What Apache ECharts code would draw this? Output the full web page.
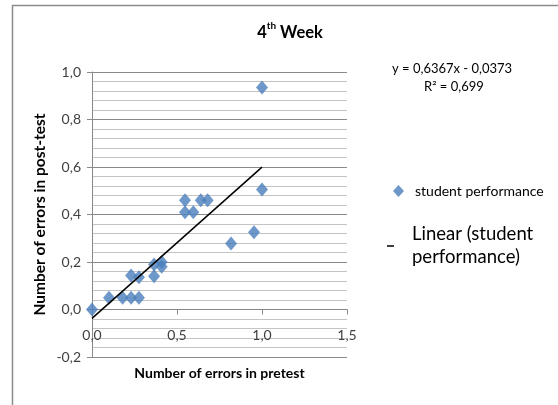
<!DOCTYPE html>
<html><head><meta charset="utf-8">
<script src="https://cdn.jsdelivr.net/npm/echarts@6/dist/echarts.min.js"></script>
<style>html,body{margin:0;padding:0;background:#fff}#c{width:558px;height:405px}</style>
</head><body><div id="c"></div>
<script>
// Data
const pretest  = [0, 0.10, 0.18, 0.23, 0.276, 0.23, 0.276, 0.365, 0.365, 0.41, 0.41, 0.547, 0.596, 0.547, 0.64, 0.68, 0.818, 0.953, 1.0, 1.0];
const posttest = [0, 0.05, 0.05, 0.05, 0.05, 0.143, 0.136, 0.14, 0.19, 0.20, 0.18, 0.41, 0.41, 0.46, 0.46, 0.46, 0.278, 0.325, 0.505, 0.935];
const trendSlope = 0.6367;
const trendIntercept = -0.0373;
const trendRange = [0, 1];
const yTicks = [-0.2, 0.0, 0.2, 0.4, 0.6, 0.8, 1.0];
const xTicks = [0, 0.5, 1.0, 1.5];
const seriesName = 'student performance';
const trendName = 'Linear (student performance)';

const fmt = v => v.toFixed(1).replace('.', ',');
const FONT = 'Lato, "Open Sans", sans-serif';

const GRID = {left: 92, right: 211, top: 72, bottom: 48};
const H = 405;
const yMin = yTicks[0], yMax = yTicks[yTicks.length - 1];
// move the x axis up to where y = 0 sits on the y scale
const gridH = H - GRID.top - GRID.bottom;
const xAxisOffset = -((0 - yMin) / (yMax - yMin)) * gridH;

const chart = echarts.init(document.getElementById('c'));
chart.setOption({
  animation: false,
  backgroundColor: '#fff',
  title: {
    text: '{b|4}{s|th}{b| Week}',
    left: 285, top: 16, textAlign: 'center',
    textStyle: {
      rich: {
        b: {fontFamily: FONT, fontWeight: 'bold', fontSize: 16.5, color: '#000', verticalAlign: 'bottom', lineHeight: 20},
        s: {fontFamily: FONT, fontWeight: 'bold', fontSize: 10, color: '#000', verticalAlign: 'top', lineHeight: 20, padding: [0,0,8,0]}
      }
    }
  },
  grid: Object.assign({outerBoundsMode: 'none', containLabel: false}, GRID),
  xAxis: {
    type: 'value', min: xTicks[0], max: xTicks[xTicks.length-1], interval: 0.5,
    position: 'bottom', offset: xAxisOffset,
    axisLine: {onZero: false, lineStyle: {color: '#888', width: 1}},
    axisTick: {show: true, length: 5, lineStyle: {color: '#888'}},
    axisLabel: {formatter: fmt, color: '#404040', fontSize: 14, fontFamily: FONT, margin: 19},
    splitLine: {show: false},
    name: 'Number of errors in pretest', nameLocation: 'middle', nameGap: 57,
    nameTextStyle: {fontFamily: FONT, fontWeight: 'bold', fontSize: 14, color: '#000'}
  },
  yAxis: {
    type: 'value', min: yMin, max: yMax, interval: 0.2,
    axisLine: {show: true, onZero: false, lineStyle: {color: '#888', width: 1}},
    axisTick: {show: true, length: 5, lineStyle: {color: '#888'}},
    axisLabel: {formatter: fmt, color: '#404040', fontSize: 14, fontFamily: FONT, margin: 11},
    splitLine: {show: true, lineStyle: {color: '#8a8a8a', width: 1}},
    minorTick: {show: false, splitNumber: 5},
    minorSplitLine: {show: true, lineStyle: {color: '#c4c4c4', width: 1}},
    name: 'Number of errors in post-test', nameLocation: 'middle', nameGap: 44,
    nameTextStyle: {fontFamily: FONT, fontWeight: 'bold', fontSize: 15.5, color: '#000'}
  },
  legend: [
    {
      data: [seriesName], left: 388, top: 179, orient: 'vertical',
      icon: 'diamond', itemWidth: 11, itemHeight: 12, itemGap: 6,
      textStyle: {fontFamily: FONT, fontSize: 14, color: '#000', padding: [0,0,0,6]}
    },
    {
      data: [trendName], left: 382, top: 218, orient: 'vertical',
      icon: 'rect', itemWidth: 7, itemHeight: 1.5, itemGap: 8,
      formatter: () => 'Linear (student\nperformance)',
      textStyle: {fontFamily: FONT, fontSize: 18.5, color: '#000', lineHeight: 23, padding: [0,0,0,13]}
    }
  ],
  graphic: [
    {type: 'rect', shape: {x: 12.5, y: 5.5, width: 560, height: 420},
     style: {fill: 'none', stroke: '#8c8c8c', lineWidth: 1.5}, silent: true, z: 0},
    {type: 'text', left: 392, top: 62,
     style: {text: 'y = 0,6367x - 0,0373', font: '13px ' + FONT, fill: '#000'}},
    {type: 'text', left: 424, top: 80,
     style: {text: 'R² = 0,699', font: '13px ' + FONT, fill: '#000'}}
  ],
  series: [
    {
      name: seriesName, type: 'scatter', symbol: 'diamond', symbolSize: [12, 14],
      itemStyle: {color: '#4a7ebb'}, z: 3,
      data: pretest.map((x, i) => [x, posttest[i]])
    },
    {
      name: trendName, type: 'line', symbol: 'none', z: 4,
      lineStyle: {color: '#000', width: 1.5},
      itemStyle: {color: '#000'},
      data: trendRange.map(x => [x, trendSlope * x + trendIntercept])
    }
  ]
});
</script></body></html>
